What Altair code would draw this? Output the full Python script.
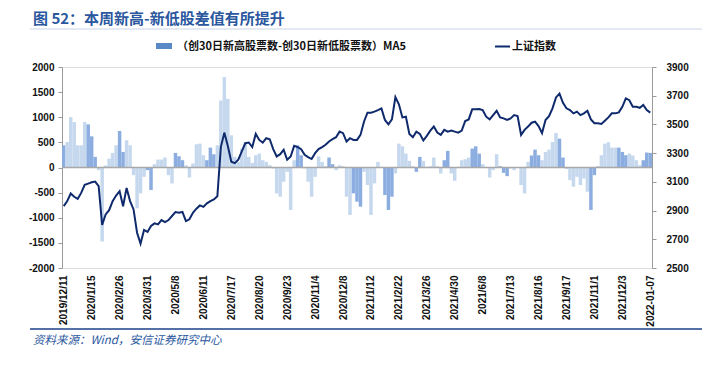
import json
import altair as alt
import pandas as pd

# x-axis tick labels (every 8th sample)
labels = ["2019/12/11", "2020/1/15", "2020/2/26", "2020/3/31", "2020/5/8", "2020/6/11",
          "2020/7/17", "2020/8/20", "2020/9/23", "2020/11/4", "2020/12/8", "2021/1/12",
          "2021/2/22", "2021/3/26", "2021/4/30", "2021/6/8", "2021/7/13", "2021/8/16",
          "2021/9/17", "2021/11/1", "2021/12/3", "2022-01-07"]

# (创30日新高股票数-创30日新低股票数) MA5
ma5 = [442, 508, 1003, 904, 442, 442, 904, 858, 620, 211,
       -53, -1472, 40, 178, 290, 442, 726, 310, 541, 442,
       -152, -812, -515, -185, -53, -449, 66, 158, 158, 198,
       -152, -317, 290, 224, 145, 46, -198, 79, 462, 475,
       244, 145, 396, 264, 442, 1333, 1800, 1366, 640, 211,
       112, 376, 508, 211, 92, 244, 277, 145, 112, 46,
       -20, -515, -581, -284, -86, -845, 145, 442, 244, -20,
       -284, -581, -185, 224, 112, 26, 198, 66, -53, 46,
       26, -581, -944, -515, -680, -779, -86, -350, -944, -317,
       112, 13, -548, -845, -581, -119, 475, 422, 277, 132,
       26, -86, 211, 132, 13, 26, 198, 26, -119, 145,
       330, -119, -264, 13, 145, 165, 198, 376, 422, 277,
       66, 10, -198, -53, 264, 26, -106, -172, -20, -53,
       -10, -350, -515, 112, 238, 356, 244, 145, 310, 356,
       508, 686, 574, 198, -20, -251, -383, -185, -350, -218,
       -482, -845, -152, 20, 244, 475, 502, 396, 396, 396,
       310, 244, 277, 238, 145, 46, 145, 297, 290]

# 上证指数
sh_index = [2931, 2966, 3019, 2996, 2982, 3023, 3079, 3088, 3097, 3102,
            3070, 2800, 2873, 2903, 2966, 3005, 3035, 2930, 3058, 2966,
            2908, 2746, 2670, 2765, 2751, 2793, 2811, 2804, 2834, 2820,
            2834, 2862, 2890, 2885, 2890, 2827, 2839, 2885, 2913, 2936,
            2926, 2950, 2966, 2977, 3000, 3342, 3443, 3350, 3240, 3230,
            3254, 3312, 3369, 3374, 3342, 3434, 3392, 3374, 3404, 3397,
            3328, 3277, 3293, 3323, 3254, 3277, 3351, 3342, 3328, 3289,
            3272, 3259, 3300, 3328, 3342, 3358, 3381, 3397, 3411, 3450,
            3439, 3381, 3404, 3392, 3392, 3427, 3519, 3582, 3582, 3589,
            3600, 3612, 3531, 3501, 3535, 3690, 3640, 3549, 3554, 3434,
            3411, 3450, 3434, 3388, 3420, 3457, 3485, 3443, 3427, 3462,
            3450, 3457, 3450, 3443, 3457, 3524, 3535, 3605, 3605, 3607,
            3600, 3554, 3535, 3565, 3595, 3549, 3542, 3531, 3542, 3565,
            3558, 3427, 3462, 3485, 3512, 3519, 3489, 3439, 3531, 3558,
            3612, 3688, 3715, 3651, 3612, 3600, 3577, 3589, 3565, 3577,
            3595, 3535, 3508, 3508, 3503, 3526, 3549, 3577, 3577, 3584,
            3623, 3681, 3669, 3623, 3623, 3616, 3635, 3600, 3582]

# samples drawn in the darker shade
dark_idx = [0, 7, 8, 9, 16, 17, 24, 25, 32, 33, 34, 41, 42, 43, 67, 68, 76, 77,
            83, 84, 85, 92, 93, 94, 101, 102, 109, 110, 117, 118, 119, 125, 126, 127,
            134, 135, 136, 142, 143, 144, 151, 152, 153, 159, 160, 161, 166, 167, 168]

n = len(ma5)
dark_set = set(dark_idx)
df = pd.DataFrame({
    "i": list(range(n)),
    "ma5": ma5,
    "idx": sh_index,
    "shade": ["dark" if k in dark_set else "light" for k in range(n)],
})

W, H = 590, 201
FONT = "Liberation Sans"
CJK = "Noto Sans CJK SC"
BLUE_T = "#2a579e"

x_scale = alt.Scale(domain=[-0.5, n - 0.5], nice=False, zero=False)
x_axis = alt.Axis(values=list(range(0, n, 8)),
                  labelExpr=json.dumps(labels) + "[round(datum.value/8)]",
                  labelAngle=-90, domain=False, ticks=False, grid=False,
                  labelFont=FONT, labelFontWeight="bold", labelFontSize=10,
                  labelColor="#111", labelPadding=7, labelOverlap=False,
                  labelFlush=False, labelBound=False, title=None)

left_axis = alt.Axis(values=list(range(-2000, 2001, 500)), grid=False, title=None,
                     labelExpr="datum.value",
                     domainColor="#9a9a9a", tickColor="#9a9a9a", tickSize=4,
                     labelFont=FONT, labelFontWeight="bold", labelFontSize=10,
                     labelColor="#111", labelPadding=4)
right_axis = alt.Axis(values=list(range(2500, 3901, 200)), grid=False, title=None,
                      labelExpr="datum.value",
                      orient="right", domainColor="#9a9a9a", tickColor="#9a9a9a",
                      tickSize=4, labelFont=FONT, labelFontWeight="bold",
                      labelFontSize=10, labelColor="#111", labelPadding=10)

y_left = alt.Scale(domain=[-2000, 2000], nice=False)
y_right = alt.Scale(domain=[2500, 3900], nice=False, zero=False)

bars = alt.Chart(df).transform_calculate(
    xa="datum.i - 0.5", xb="datum.i + 0.5"
).mark_bar(strokeWidth=0).encode(
    x=alt.X("xa:Q", scale=x_scale, axis=x_axis),
    x2="xb:Q",
    y=alt.Y("ma5:Q", scale=y_left, axis=left_axis),
    y2=alt.datum(0),
    color=alt.Color("shade:N", scale=alt.Scale(domain=["light", "dark"],
                                               range=["#c6d8ee", "#8cade0"]), legend=None),
)

zero = alt.Chart(pd.DataFrame({"z": [0]})).mark_rule(color="#a8a8a8", strokeWidth=1.5).encode(
    y=alt.Y("z:Q", scale=y_left, axis=None)
)

line = alt.Chart(df).mark_line(color="#0f2a6c", strokeWidth=2).encode(
    x=alt.X("i:Q", scale=x_scale, axis=x_axis),
    y=alt.Y("idx:Q", scale=y_right, axis=right_axis),
)

def txt(s, x, y, size, color, weight="bold", font=CJK, style="normal", baseline="alphabetic"):
    return alt.Chart(pd.DataFrame({"t": [s]})).mark_text(
        align="left", baseline=baseline, fontSize=size, font=font,
        fontWeight=weight, fontStyle=style, color=color
    ).encode(x=alt.value(x), y=alt.value(y), text="t:N")

title = txt("图 52：本周新高-新低股差值有所提升", -29, -43, 15, BLUE_T)
title_rule = alt.Chart(pd.DataFrame({"a": [0]})).mark_rule(color="#c9d3e6", strokeWidth=1).encode(
    x=alt.value(-32), x2=alt.value(640), y=alt.value(-38))

leg_rect = alt.Chart(pd.DataFrame({"a": [0]})).mark_rect(color="#5b88c6").encode(
    x=alt.value(94), x2=alt.value(110), y=alt.value(-24), y2=alt.value(-18))
leg_t1 = txt("（创30日新高股票数-创30日新低股票数）MA5", 115, -20.5, 11, "#111", baseline="middle")
leg_line = alt.Chart(pd.DataFrame({"a": [0]})).mark_rule(color="#0f2a6c", strokeWidth=2).encode(
    x=alt.value(433), x2=alt.value(448), y=alt.value(-20.5))
leg_t2 = txt("上证指数", 450, -20.5, 11, "#111", baseline="middle")

foot_rule = alt.Chart(pd.DataFrame({"a": [0]})).mark_rule(color="#1d3f8a", strokeWidth=1.5).encode(
    x=alt.value(-32), x2=alt.value(640), y=alt.value(262))
footer = txt("资料来源：Wind，安信证券研究中心", -29, 277, 11.5, BLUE_T, weight="normal", style="italic")

chart = alt.layer(
    bars, zero, line,
    title, title_rule, leg_rect, leg_t1, leg_line, leg_t2, foot_rule, footer
).resolve_scale(y="independent", color="independent").properties(
    width=W, height=H,
    autosize=alt.AutoSizeParams(type="none"),
    padding={"left": 54, "top": 59, "right": 52, "bottom": 86},
).configure_view(stroke=None).configure(background="white")

chart.save("out.html", embed_options={"renderer": "svg", "actions": False})
